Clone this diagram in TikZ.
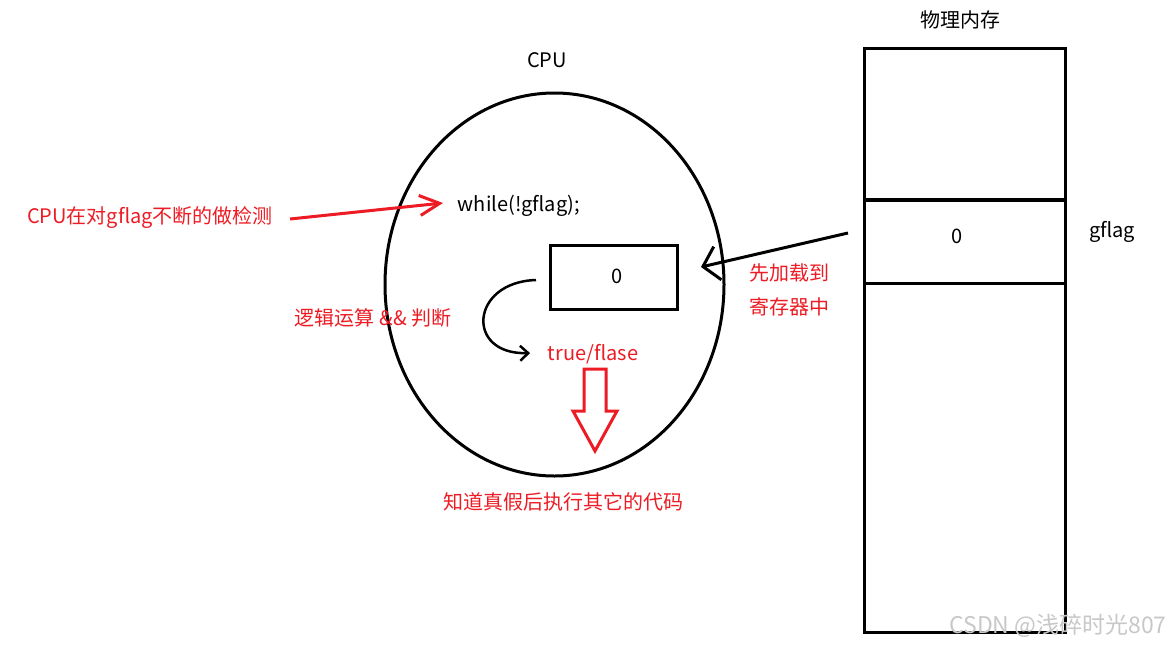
\documentclass[tikz,border=0pt]{standalone}
\usepackage{fontspec}
\setmainfont{Noto Sans CJK SC}
\usetikzlibrary{shapes.geometric,arrows.meta}
\definecolor{myred}{RGB}{237,28,36}
\definecolor{wmgray}{RGB}{200,200,200}
\tikzset{
  txt/.style={inner sep=0pt,font=\fontsize{20}{22}\selectfont},
  rtxt/.style={txt,text=myred},
  thick line/.style={line width=3pt},
}
\begin{document}
\begin{tikzpicture}[x=1pt,y=-1pt]
\useasboundingbox[fill=white] (0,0) rectangle (1170,646);
% CPU ellipse
\node[ellipse,draw,thick line,minimum width=339pt,minimum height=383pt,inner sep=0pt] (cpu) at (554.5,284.5) {};
\node[txt] (cputitle) at (547,60) {CPU};
% register box
\node[draw,thick line,minimum width=127pt,minimum height=64pt,inner sep=0pt] (reg) at (613.5,277) {};
\node[txt] (regval) at (617,276) {0};
% memory
\node[draw,thick line,minimum width=201pt,minimum height=152pt,inner sep=0pt,anchor=north west] (memtop) at (862.5,46.5) {};
\node[draw,thick line,minimum width=201pt,minimum height=84pt,inner sep=0pt,anchor=north west] (memflag) at (862.5,198) {};
\node[draw,thick line,minimum width=201pt,minimum height=349pt,inner sep=0pt,anchor=north west] (membot) at (862.5,282) {};
\node[txt] (memtitle) at (960,20) {物理内存};
\node[txt] (memval) at (957,236) {0};
\node[txt] (gflag) at (1112,232) {gflag};
% texts
\node[txt] (while) at (519,206) {while(!gflag);};
\node[rtxt] (check) at (150,218) {CPU在对gflag不断的做检测};
\node[rtxt] (load1) at (789,273) {先加载到};
\node[rtxt] (load2) at (789,307) {寄存器中};
\node[rtxt] (logic) at (373,318) {逻辑运算 \&\&  判断};
\node[rtxt] (tf) at (593,354) {true/flase};
\node[rtxt] (after) at (563,502) {知道真假后执行其它的代码};
\node[inner sep=0pt,text=wmgray,font=\fontsize{23}{25}\selectfont] (wm) at (1058,626) {CSDN @浅碎时光807};
% arrows
\coordinate (rs) at (290,219);
\coordinate (re) at (443,203);
\draw[myred,thick line,-{Straight Barb[length=20pt,width=20pt,line width=3pt]}] (rs) -- (re);
\coordinate (bs) at (848,233);
\coordinate (be) at (701,267);
\draw[thick line,-{Straight Barb[length=15pt,width=34pt,line width=3pt]}] (bs) -- (be);
\coordinate (cs) at (536,280);
\coordinate (ce) at (530,353);
\draw[line width=2.5pt,-{Straight Barb[length=8pt,width=15pt,line width=2.5pt]}] (cs) .. controls (470,282) and (465,355) .. (ce);
% hollow down arrow
\draw[myred,thick line,fill=white,line join=miter]
  (584,369) -- (606,369) -- (606,411) -- (617,411) -- (595,451) -- (573,411) -- (584,411) -- cycle;
\end{tikzpicture}
\end{document}
